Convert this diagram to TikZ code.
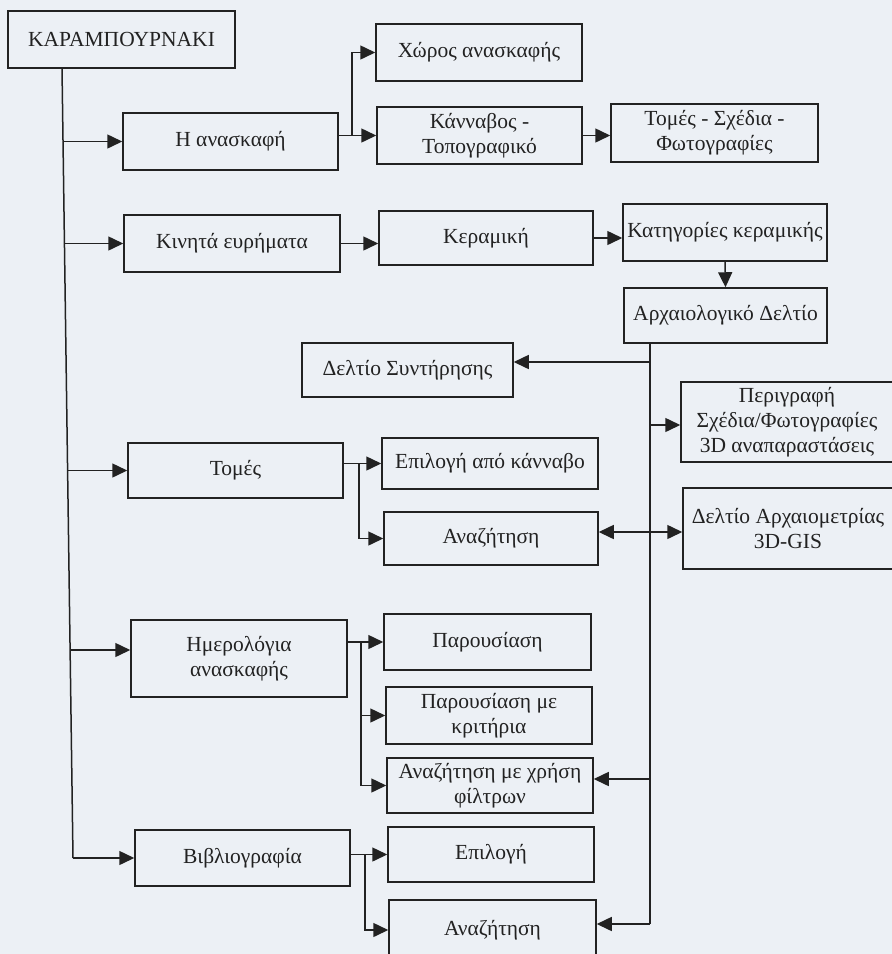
\documentclass[tikz,border=0pt]{standalone}
\usepackage{fontspec}
\setmainfont{Liberation Serif}
\usetikzlibrary{arrows.meta,calc}
\definecolor{paper}{RGB}{236,240,245}
\definecolor{ink}{RGB}{34,34,34}
\newcommand\lsh{\hspace*{-14pt}}
\tikzset{
  box/.style={draw=ink, line width=1.5pt, rectangle, inner sep=2pt, align=center,
              font=\fontsize{21.5}{25}\selectfont, text=ink},
  wh/.style 2 args={minimum width=#1pt, minimum height=#2pt},
  conn/.style={draw=ink, line width=1.5pt},
  arr/.style={conn, -{Triangle[length=15pt,width=14pt]}},
  darr/.style={conn, {Triangle[length=15pt,width=14pt]}-{Triangle[length=15pt,width=14pt]}},
}
\begin{document}
\begin{tikzpicture}[x=1pt,y=-1pt]
\useasboundingbox (0,0) rectangle (892,954);
\fill[paper] (0,0) rectangle (892,954);
\clip (0,0) rectangle (892,954);

% boxes
\node[box, wh={227}{57}] (root)   at (121.5,39.5) {ΚΑΡΑΜΠΟΥΡΝΑΚΙ};
\node[box, wh={215}{57}] (exc)    at (230.5,141.5) {Η ανασκαφή};
\node[box, wh={206}{57}] (choros) at (479,52.5) {Χώρος ανασκαφής};
\node[box, wh={205}{57}] (kanv)   at (479.5,135.5) {Κάνναβος -\\Τοπογραφικό};
\node[box, wh={207}{58}] (tomesx) at (714.5,133) {Τομές - Σχέδια -\\Φωτογραφίες};
\node[box, wh={216}{57}] (kinita) at (232,243.5) {Κινητά ευρήματα};
\node[box, wh={214}{54}] (keram)  at (486,238) {Κεραμική};
\node[box, wh={204}{57}] (katig)  at (725,232.5) {Κατηγορίες κεραμικής};
\node[box, wh={203}{55}] (archd)  at (725.5,315.5) {Αρχαιολογικό Δελτίο};
\node[box, wh={211}{54}] (syntir) at (407.5,370) {Δελτίο Συντήρησης};
\node[box, wh={226}{80}] (perig)  at (794,422) {\lsh Περιγραφή\\\lsh Σχέδια/Φωτογραφίες\\\lsh 3D αναπαραστάσεις};
\node[box, wh={224}{81}] (archm)  at (795,528.5) {\lsh Δελτίο Αρχαιομετρίας\\\lsh 3D-GIS};
\node[box, wh={215}{55}] (tomes)  at (235.5,470.5) {Τομές};
\node[box, wh={216}{51}] (epil1)  at (490,463.5) {Επιλογή από κάνναβο};
\node[box, wh={214}{53}] (anaz1)  at (491,538.5) {Αναζήτηση};
\node[box, wh={216}{77}] (imer)   at (239,658.5) {Ημερολόγια\\ανασκαφής};
\node[box, wh={207}{56}] (parous) at (487.5,642) {Παρουσίαση};
\node[box, wh={206}{57}] (parkrit) at (489,715.5) {Παρουσίαση με\\κριτήρια};
\node[box, wh={206}{55}] (anazf)  at (490,785.5) {Αναζήτηση με χρήση\\φίλτρων};
\node[box, wh={215}{56}] (vivl)   at (242.5,858) {Βιβλιογραφία};
\node[box, wh={206}{55}] (epil2)  at (491,854.5) {Επιλογή};
\node[box, wh={207}{60}] (anaz2)  at (492.5,930) {Αναζήτηση};

% left trunk
\coordinate (t0) at (62,68);
\coordinate (t1) at (63,141.5);
\coordinate (t2) at (64.4,243.5);
\coordinate (t3) at (67.6,470.5);
\coordinate (t4) at (70.1,650);
\coordinate (t5) at (73,858);
\draw[conn] (t0) -- (t5);
\draw[arr] (t1) -- (t1 -| exc.west);
\draw[arr] (t2) -- (t2 -| kinita.west);
\draw[arr] (t3) -- (t3 -| tomes.west);
\draw[arr] (t4) -- (t4 -| imer.west);
\draw[arr] (t5) -- (t5 -| vivl.west);

% excavation branch
\coordinate (b1) at (352,135.5);
\draw[arr] (exc.east |- kanv.west) -- (kanv.west);
\draw[arr] (b1) |- (choros.west);
\draw[arr] (kanv.east) -- (kanv.east -| tomesx.west);

% finds
\draw[arr] (kinita.east) -- (kinita.east -| keram.west);
\draw[arr] (keram.east) -- (keram.east -| katig.west);
\draw[arr] (katig.south) -- (archd.north);

% right trunk
\coordinate (r0) at (650,343);
\coordinate (r1) at (650,362);
\coordinate (r2) at (650,425);
\coordinate (r3) at (650,532);
\coordinate (r4) at (650,779);
\coordinate (r5) at (650,924);
\draw[conn] (r0) -- (r5);
\draw[arr] (r1) -- (r1 -| syntir.east);
\draw[arr] (r2) -- (r2 -| perig.west);
\draw[darr] (anaz1.east |- r3) -- (r3 -| archm.west);
\draw[arr] (r4) -- (r4 -| anazf.east);
\draw[arr] (r5) -- (r5 -| anaz2.east);

% sections
\coordinate (b2) at (359,463.5);
\draw[arr] (tomes.east |- epil1.west) -- (epil1.west);
\draw[arr] (b2) |- (anaz1.west);

% diaries
\coordinate (b3) at (361,642);
\draw[arr] (imer.east |- parous.west) -- (parous.west);
\draw[arr] (b3) |- (parkrit.west);
\draw[arr] (b3) |- (anazf.west);

% bibliography
\coordinate (b4) at (365,854.5);
\draw[arr] (vivl.east |- epil2.west) -- (epil2.west);
\draw[arr] (b4) |- (anaz2.west);
\end{tikzpicture}
\end{document}
